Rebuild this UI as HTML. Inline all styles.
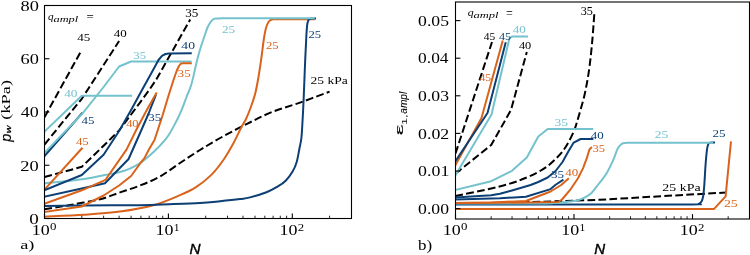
<!DOCTYPE html>
<html><head><meta charset="utf-8"><style>
html,body{margin:0;padding:0;background:#fff;}
body{width:750px;height:255px;overflow:hidden;}
svg{display:block;will-change:transform;}
</style></head><body>
<svg width="750" height="255" viewBox="0 0 750 255">
<defs><clipPath id="cl"><rect x="44.5" y="5.5" width="307" height="213"/></clipPath><clipPath id="cr"><rect x="455.5" y="2" width="294" height="217"/></clipPath></defs>
<rect width="750" height="255" fill="#fff"/>
<path clip-path="url(#cl)" d="M44.5,117.2 L81.8,49.8" stroke="#000000" stroke-width="2.0" stroke-dasharray="7.7,3.3" fill="none" stroke-linejoin="round" stroke-linecap="butt"/>
<path clip-path="url(#cl)" d="M44.5,144.5 L81.8,98.8 L103.6,65 L119.1,41" stroke="#000000" stroke-width="2.0" stroke-dasharray="7.7,3.3" fill="none" stroke-linejoin="round" stroke-linecap="butt"/>
<path clip-path="url(#cl)" d="M44.5,177 L81.8,166.8 L103.6,145.8 L119.1,130.5 L131.1,114.5 L140.9,101.3 L149.2,90 L156.4,79.3 L162.7,68.2 L168.4,58 L175,46.5 L182,34 L190.2,19.5" stroke="#000000" stroke-width="2.0" stroke-dasharray="7.7,3.3" fill="none" stroke-linejoin="round" stroke-linecap="butt"/>
<path clip-path="url(#cl)" d="M44.5,209.2 C48.75,208.5 60.75,206.67 70,205 C79.25,203.33 91.67,201.3 100,199.2 C108.33,197.1 113.33,194.68 120,192.4 C126.67,190.12 133.33,188.15 140,185.5 C146.67,182.85 153.33,180.25 160,176.5 C166.67,172.75 173.33,167.42 180,163 C186.67,158.58 193,154.33 200,150 C207,145.67 214.17,141.35 222,137 C229.83,132.65 238.67,128.07 247,123.9 C255.33,119.73 263.17,115.55 272,112 C280.83,108.45 290.4,106 300,102.6 C309.6,99.2 324.67,93.43 329.6,91.6" stroke="#000000" stroke-width="2.0" stroke-dasharray="7.7,3.3" fill="none" stroke-linejoin="round" stroke-linecap="butt"/>
<path clip-path="url(#cl)" d="M44.5,216.7 C51.08,216.38 71.42,215.65 84,214.8 C96.58,213.95 108.45,213.18 120,211.6 C131.55,210.02 143.3,208.03 153.3,205.3 C163.3,202.57 172.93,198.18 180,195.2 C187.07,192.22 190.48,190.78 195.7,187.4 C200.92,184.02 206.6,179.6 211.3,174.9 C216,170.2 220.23,164.43 223.9,159.2 C227.57,153.97 230.43,148.73 233.3,143.5 C236.17,138.27 238.98,131.88 241.1,127.8 C243.22,123.72 244.43,122.3 246,119 C247.57,115.7 248.98,112.17 250.5,108 C252.02,103.83 253.77,99.17 255.1,94 C256.43,88.83 257.43,83.17 258.5,77 C259.57,70.83 260.58,63.5 261.5,57 C262.42,50.5 263.25,42.83 264,38 C264.75,33.17 265.25,30.67 266,28 C266.75,25.33 267.5,23.42 268.5,22 C269.5,20.58 270.42,19.97 272,19.5 C273.58,19.03 271.05,19.25 278,19.2 C284.95,19.15 307.75,19.2 313.7,19.2" stroke="#d9631a" stroke-width="2.0" fill="none" stroke-linejoin="round" stroke-linecap="square"/>
<path clip-path="url(#cl)" d="M44.5,205.9 C51.08,205.82 68.08,205.52 84,205.4 C99.92,205.28 125.83,205.38 140,205.2 C154.17,205.02 159,204.67 169,204.3 C179,203.93 191.5,203.52 200,203 C208.5,202.48 213.33,201.87 220,201.2 C226.67,200.53 235,199.63 240,199 C245,198.37 245.58,198.53 250,197.4 C254.42,196.27 261.92,193.98 266.5,192.2 C271.08,190.42 274.3,188.62 277.5,186.7 C280.7,184.78 283.18,183.22 285.7,180.7 C288.22,178.18 290.77,174.72 292.6,171.6 C294.43,168.48 295.55,165.9 296.7,162 C297.85,158.1 298.72,152.2 299.5,148.2 C300.28,144.2 300.88,142.7 301.4,138 C301.92,133.3 302.23,126.33 302.6,120 C302.97,113.67 303.17,110 303.6,100 C304.03,90 304.73,70.83 305.2,60 C305.67,49.17 306.03,41.08 306.4,35 C306.77,28.92 306.97,26.13 307.4,23.5 C307.83,20.87 308.23,20.02 309,19.2 C309.77,18.38 311,18.72 312,18.6 C313,18.48 314.5,18.52 315,18.5" stroke="#0c3f74" stroke-width="2.0" fill="none" stroke-linejoin="round" stroke-linecap="square"/>
<path clip-path="url(#cl)" d="M44.5,183.4 C51.08,182.67 73.95,180.4 84,179 C94.05,177.6 97.97,176.42 104.8,175 C111.63,173.58 118.68,172.8 125,170.5 C131.32,168.2 135.98,166.35 142.7,161.2 C149.42,156.05 159.58,146.47 165.3,139.6 C171.02,132.73 174.22,125.1 177,120 C179.78,114.9 180.42,112.83 182,109 C183.58,105.17 184.92,101.17 186.5,97 C188.08,92.83 189.77,90 191.5,84 C193.23,78 195.35,67.17 196.9,61 C198.45,54.83 199.5,51.25 200.8,47 C202.1,42.75 203.58,38.75 204.7,35.5 C205.82,32.25 206.52,29.75 207.5,27.5 C208.48,25.25 209.68,23.33 210.6,22 C211.52,20.67 212.18,20.07 213,19.5 C213.82,18.93 214,18.82 215.5,18.6 C217,18.38 217.92,18.27 222,18.2 C226.08,18.13 224.72,18.2 240,18.2 C255.28,18.2 301.42,18.2 313.7,18.2" stroke="#74c2cd" stroke-width="2.0" fill="none" stroke-linejoin="round" stroke-linecap="square"/>
<path clip-path="url(#cl)" d="M44.5,189.6 L81.8,148.5" stroke="#d9631a" stroke-width="2.0" fill="none" stroke-linejoin="round" stroke-linecap="square"/>
<path clip-path="url(#cl)" d="M44.5,156 L81.8,113.5" stroke="#0c3f74" stroke-width="2.0" fill="none" stroke-linejoin="round" stroke-linecap="square"/>
<path clip-path="url(#cl)" d="M44.5,152.8 L81.8,114.3 L103.6,87 L119.1,66.5 L131.1,61.5 L190.5,61.5" stroke="#74c2cd" stroke-width="2.0" fill="none" stroke-linejoin="round" stroke-linecap="square"/>
<path clip-path="url(#cl)" d="M44.5,212 L81.8,206.5 L103.6,195.5 L119.1,185.5 L131.1,176 L140.9,162.5 L144.3,158.4 L149.2,149 L154.5,140 L162.7,115 L168.4,96 L173.5,80 L177,70 L179,66 L181,63.4 L183,63.2 L190.8,63.2" stroke="#d9631a" stroke-width="2.0" fill="none" stroke-linejoin="round" stroke-linecap="square"/>
<path clip-path="url(#cl)" d="M44.5,196.7 L81.8,188.5 L105,183.3 L128.6,159 L141.4,130 L148.6,113.5 L155.6,95.5" stroke="#0c3f74" stroke-width="2.0" fill="none" stroke-linejoin="round" stroke-linecap="square"/>
<path clip-path="url(#cl)" d="M44.5,203.8 L81.8,190.3 L105.5,179.8 L126.5,149.6 L136.2,130 L146,111.5 L156.2,93.3" stroke="#d9631a" stroke-width="2.0" fill="none" stroke-linejoin="round" stroke-linecap="square"/>
<path clip-path="url(#cl)" d="M44.5,190.1 L81.8,175 L103.6,154.8 L119.1,131 L131.1,110 L140.9,92 L149.2,77 L155,66.5 L158.5,60 L162,55.8 L165.5,54 L169,53.4 L190.8,53.3" stroke="#0c3f74" stroke-width="2.0" fill="none" stroke-linejoin="round" stroke-linecap="square"/>
<path clip-path="url(#cl)" d="M44.5,131.7 L81.8,95.8 L131.1,95.8" stroke="#74c2cd" stroke-width="2.0" fill="none" stroke-linejoin="round" stroke-linecap="square"/>
<path clip-path="url(#cr)" d="M455.5,153.5 L492,42" stroke="#000000" stroke-width="2.0" stroke-dasharray="7.7,3.3" fill="none" stroke-linejoin="round" stroke-linecap="butt"/>
<path clip-path="url(#cr)" d="M455.5,173.6 L491.2,145 L511,110 L526.8,52" stroke="#000000" stroke-width="2.0" stroke-dasharray="7.7,3.3" fill="none" stroke-linejoin="round" stroke-linecap="butt"/>
<path clip-path="url(#cr)" d="M455.5,196 C461.45,194.75 481.78,190.67 491.2,188.5 C500.62,186.33 506.07,184.83 512,183 C517.93,181.17 522.42,179.33 526.8,177.5 C531.18,175.67 534.82,173.92 538.3,172 C541.78,170.08 544.82,168.17 547.7,166 C550.58,163.83 553.13,161.42 555.6,159 C558.07,156.58 560.33,154.33 562.5,151.5 C564.67,148.67 566.68,145.42 568.6,142 C570.52,138.58 572.6,134.33 574,131 C575.4,127.67 575.92,125.5 577,122 C578.08,118.5 579.27,114.42 580.5,110 C581.73,105.58 583.27,100.33 584.4,95.5 C585.53,90.67 586.43,85.92 587.3,81 C588.17,76.08 588.9,71.33 589.6,66 C590.3,60.67 590.93,54.67 591.5,49 C592.07,43.33 592.52,38.08 593,32 C593.48,25.92 594.17,15.75 594.4,12.5" stroke="#000000" stroke-width="2.0" stroke-dasharray="7.7,3.3" fill="none" stroke-linejoin="round" stroke-linecap="butt"/>
<path clip-path="url(#cr)" d="M455.5,203.9 L530,202.1 L600,199.8 L620,198.6 L725.9,192.5" stroke="#000000" stroke-width="2.0" stroke-dasharray="7.7,3.3" fill="none" stroke-linejoin="round" stroke-linecap="butt"/>
<path clip-path="url(#cr)" d="M455.5,208.9 L714.1,208.9 L725.6,196.3 L730.9,142.3" stroke="#d9631a" stroke-width="2.0" fill="none" stroke-linejoin="round" stroke-linecap="square"/>
<path clip-path="url(#cr)" d="M455.5,204.6 C479.58,204.58 560.58,204.53 600,204.5 C639.42,204.47 675.58,204.48 692,204.4 C708.42,204.32 696.92,204.48 698.5,204 C700.08,203.52 700.72,202.83 701.5,201.5 C702.28,200.17 702.73,198.75 703.2,196 C703.67,193.25 703.9,190.27 704.3,185 C704.7,179.73 705.15,170.28 705.6,164.4 C706.05,158.52 706.55,153.07 707,149.7 C707.45,146.33 707.8,145.38 708.3,144.2 C708.8,143.02 709.05,142.87 710,142.6 C710.95,142.33 713.33,142.6 714,142.6" stroke="#0c3f74" stroke-width="2.0" fill="none" stroke-linejoin="round" stroke-linecap="square"/>
<path clip-path="url(#cr)" d="M455.5,203.4 C469.58,203.4 523.58,203.45 540,203.4 C556.42,203.35 549,203.42 554,203.1 C559,202.78 565.67,202.08 570,201.5 C574.33,200.92 576.67,200.8 580,199.6 C583.33,198.4 586.97,196.82 590,194.3 C593.03,191.78 595.45,187.97 598.2,184.5 C600.95,181.03 603.97,177.63 606.5,173.5 C609.03,169.37 611.57,163.78 613.4,159.7 C615.23,155.62 616.13,151.62 617.5,149 C618.87,146.38 620.23,145.02 621.6,144 C622.97,142.98 622.63,143.1 625.7,142.9 C628.77,142.7 625.58,142.82 640,142.8 C654.42,142.78 700.17,142.8 712.2,142.8" stroke="#74c2cd" stroke-width="2.0" fill="none" stroke-linejoin="round" stroke-linecap="square"/>
<path clip-path="url(#cr)" d="M455.5,164.8 L481.5,118 L502.5,41.5" stroke="#d9631a" stroke-width="2.0" fill="none" stroke-linejoin="round" stroke-linecap="square"/>
<path clip-path="url(#cr)" d="M455.5,161 L487.5,113 L505.5,43.3" stroke="#0c3f74" stroke-width="2.0" fill="none" stroke-linejoin="round" stroke-linecap="square"/>
<path clip-path="url(#cr)" d="M455.5,189.9 L491.2,181.2 L512,170.8 L526.8,157.5 L538.3,136.5 L547.7,129 L592.2,129" stroke="#74c2cd" stroke-width="2.0" fill="none" stroke-linejoin="round" stroke-linecap="square"/>
<path clip-path="url(#cr)" d="M455.5,202.9 L491.2,202.8 L526.8,202.5 L558,202 L562,199.5 L570.3,189.7 L578,178.3 L583.1,168.1 L586.9,157.9 L589.4,149.5 L591.2,147.7" stroke="#d9631a" stroke-width="2.0" fill="none" stroke-linejoin="round" stroke-linecap="square"/>
<path clip-path="url(#cr)" d="M455.5,199.4 L500,198.2 L525.9,196.8 L550.6,189.1 L555.3,185 L562.6,180.2" stroke="#0c3f74" stroke-width="2.0" fill="none" stroke-linejoin="round" stroke-linecap="square"/>
<path clip-path="url(#cr)" d="M455.5,202.9 L491.2,202.5 L525.9,201 L550.6,191.5 L561.2,185 L568.1,178.8" stroke="#d9631a" stroke-width="2.0" fill="none" stroke-linejoin="round" stroke-linecap="square"/>
<path clip-path="url(#cr)" d="M455.5,197.5 L491.2,195.3 L500,193.8 L512,190.5 L530.6,185 L538.3,182 L547.7,177.5 L555.6,171 L562.5,162 L568.6,151 L573.7,142.6 L580.6,139 L592.4,139" stroke="#0c3f74" stroke-width="2.0" fill="none" stroke-linejoin="round" stroke-linecap="square"/>
<path clip-path="url(#cr)" d="M455.5,175.2 L491.5,114.5 L509.5,38 L512,36.6 L527,36.6" stroke="#74c2cd" stroke-width="2.0" fill="none" stroke-linejoin="round" stroke-linecap="square"/>
<rect x="44.5" y="5.5" width="307" height="213" fill="none" stroke="#000" stroke-width="1.1"/>
<rect x="455.5" y="2" width="294" height="217" fill="none" stroke="#000" stroke-width="1.1"/>
<line x1="44.5" y1="218.5" x2="44.5" y2="213.6" stroke="#000" stroke-width="1.1"/>
<line x1="81.8" y1="218.5" x2="81.8" y2="215.7" stroke="#000" stroke-width="0.85"/>
<line x1="103.62" y1="218.5" x2="103.62" y2="215.7" stroke="#000" stroke-width="0.85"/>
<line x1="119.1" y1="218.5" x2="119.1" y2="215.7" stroke="#000" stroke-width="0.85"/>
<line x1="131.1" y1="218.5" x2="131.1" y2="215.7" stroke="#000" stroke-width="0.85"/>
<line x1="140.91" y1="218.5" x2="140.91" y2="215.7" stroke="#000" stroke-width="0.85"/>
<line x1="149.21" y1="218.5" x2="149.21" y2="215.7" stroke="#000" stroke-width="0.85"/>
<line x1="156.39" y1="218.5" x2="156.39" y2="215.7" stroke="#000" stroke-width="0.85"/>
<line x1="162.73" y1="218.5" x2="162.73" y2="215.7" stroke="#000" stroke-width="0.85"/>
<line x1="168.4" y1="218.5" x2="168.4" y2="213.6" stroke="#000" stroke-width="1.1"/>
<line x1="205.7" y1="218.5" x2="205.7" y2="215.7" stroke="#000" stroke-width="0.85"/>
<line x1="227.52" y1="218.5" x2="227.52" y2="215.7" stroke="#000" stroke-width="0.85"/>
<line x1="243" y1="218.5" x2="243" y2="215.7" stroke="#000" stroke-width="0.85"/>
<line x1="255" y1="218.5" x2="255" y2="215.7" stroke="#000" stroke-width="0.85"/>
<line x1="264.81" y1="218.5" x2="264.81" y2="215.7" stroke="#000" stroke-width="0.85"/>
<line x1="273.11" y1="218.5" x2="273.11" y2="215.7" stroke="#000" stroke-width="0.85"/>
<line x1="280.29" y1="218.5" x2="280.29" y2="215.7" stroke="#000" stroke-width="0.85"/>
<line x1="286.63" y1="218.5" x2="286.63" y2="215.7" stroke="#000" stroke-width="0.85"/>
<line x1="292.3" y1="218.5" x2="292.3" y2="213.6" stroke="#000" stroke-width="1.1"/>
<line x1="329.6" y1="218.5" x2="329.6" y2="215.7" stroke="#000" stroke-width="0.85"/>
<line x1="455.5" y1="219" x2="455.5" y2="214.1" stroke="#000" stroke-width="1.1"/>
<line x1="491.17" y1="219" x2="491.17" y2="216.2" stroke="#000" stroke-width="0.85"/>
<line x1="512.04" y1="219" x2="512.04" y2="216.2" stroke="#000" stroke-width="0.85"/>
<line x1="526.84" y1="219" x2="526.84" y2="216.2" stroke="#000" stroke-width="0.85"/>
<line x1="538.33" y1="219" x2="538.33" y2="216.2" stroke="#000" stroke-width="0.85"/>
<line x1="547.71" y1="219" x2="547.71" y2="216.2" stroke="#000" stroke-width="0.85"/>
<line x1="555.64" y1="219" x2="555.64" y2="216.2" stroke="#000" stroke-width="0.85"/>
<line x1="562.52" y1="219" x2="562.52" y2="216.2" stroke="#000" stroke-width="0.85"/>
<line x1="568.58" y1="219" x2="568.58" y2="216.2" stroke="#000" stroke-width="0.85"/>
<line x1="574" y1="219" x2="574" y2="214.1" stroke="#000" stroke-width="1.1"/>
<line x1="609.67" y1="219" x2="609.67" y2="216.2" stroke="#000" stroke-width="0.85"/>
<line x1="630.54" y1="219" x2="630.54" y2="216.2" stroke="#000" stroke-width="0.85"/>
<line x1="645.34" y1="219" x2="645.34" y2="216.2" stroke="#000" stroke-width="0.85"/>
<line x1="656.83" y1="219" x2="656.83" y2="216.2" stroke="#000" stroke-width="0.85"/>
<line x1="666.21" y1="219" x2="666.21" y2="216.2" stroke="#000" stroke-width="0.85"/>
<line x1="674.14" y1="219" x2="674.14" y2="216.2" stroke="#000" stroke-width="0.85"/>
<line x1="681.02" y1="219" x2="681.02" y2="216.2" stroke="#000" stroke-width="0.85"/>
<line x1="687.08" y1="219" x2="687.08" y2="216.2" stroke="#000" stroke-width="0.85"/>
<line x1="692.5" y1="219" x2="692.5" y2="214.1" stroke="#000" stroke-width="1.1"/>
<line x1="728.17" y1="219" x2="728.17" y2="216.2" stroke="#000" stroke-width="0.85"/>
<line x1="44.5" y1="218.5" x2="49.4" y2="218.5" stroke="#000" stroke-width="1.1"/>
<line x1="44.5" y1="165.25" x2="49.4" y2="165.25" stroke="#000" stroke-width="1.1"/>
<line x1="44.5" y1="112" x2="49.4" y2="112" stroke="#000" stroke-width="1.1"/>
<line x1="44.5" y1="58.75" x2="49.4" y2="58.75" stroke="#000" stroke-width="1.1"/>
<line x1="44.5" y1="5.5" x2="49.4" y2="5.5" stroke="#000" stroke-width="1.1"/>
<line x1="455.5" y1="208.6" x2="460.4" y2="208.6" stroke="#000" stroke-width="1.1"/>
<line x1="455.5" y1="171" x2="460.4" y2="171" stroke="#000" stroke-width="1.1"/>
<line x1="455.5" y1="133.4" x2="460.4" y2="133.4" stroke="#000" stroke-width="1.1"/>
<line x1="455.5" y1="95.8" x2="460.4" y2="95.8" stroke="#000" stroke-width="1.1"/>
<line x1="455.5" y1="58.2" x2="460.4" y2="58.2" stroke="#000" stroke-width="1.1"/>
<line x1="455.5" y1="20.6" x2="460.4" y2="20.6" stroke="#000" stroke-width="1.1"/>
<text transform="translate(29.34,223.75) scale(1.2730,1)" font-family='"Liberation Serif", serif' font-size="14.96" fill="#000">0</text>
<text transform="translate(20.37,170.5) scale(1.2344,1)" font-family='"Liberation Serif", serif' font-size="14.96" fill="#000">20</text>
<text transform="translate(20.84,117.25) scale(1.2015,1)" font-family='"Liberation Serif", serif' font-size="14.96" fill="#000">40</text>
<text transform="translate(20.47,64) scale(1.2277,1)" font-family='"Liberation Serif", serif' font-size="14.96" fill="#000">60</text>
<text transform="translate(20.47,10.75) scale(1.2277,1)" font-family='"Liberation Serif", serif' font-size="14.96" fill="#000">80</text>
<text transform="translate(418.09,213.78) scale(1.1893,1)" font-family='"Liberation Serif", serif' font-size="14.85" fill="#000">0.00</text>
<text transform="translate(418.08,176.18) scale(1.2037,1)" font-family='"Liberation Serif", serif' font-size="14.85" fill="#000">0.01</text>
<text transform="translate(418.09,138.58) scale(1.2001,1)" font-family='"Liberation Serif", serif' font-size="14.85" fill="#000">0.02</text>
<text transform="translate(418.09,100.98) scale(1.1893,1)" font-family='"Liberation Serif", serif' font-size="14.85" fill="#000">0.03</text>
<text transform="translate(418.1,63.38) scale(1.1718,1)" font-family='"Liberation Serif", serif' font-size="14.85" fill="#000">0.04</text>
<text transform="translate(418.09,25.78) scale(1.1893,1)" font-family='"Liberation Serif", serif' font-size="14.85" fill="#000">0.05</text>
<text transform="translate(31.67,235.45) scale(1.1646,1)" font-family='"Liberation Serif", serif' font-size="15.41" fill="#000">10</text>
<text transform="translate(50.09,230.39) scale(1.1728,1)" font-family='"Liberation Serif", serif' font-size="10.96" fill="#000">0</text>
<text transform="translate(155.57,235.45) scale(1.1646,1)" font-family='"Liberation Serif", serif' font-size="15.41" fill="#000">10</text>
<text transform="translate(173.82,230.5) scale(1.0301,1)" font-family='"Liberation Serif", serif' font-size="11.21" fill="#000">1</text>
<text transform="translate(279.47,235.45) scale(1.1646,1)" font-family='"Liberation Serif", serif' font-size="15.41" fill="#000">10</text>
<text transform="translate(297.83,230.5) scale(1.1372,1)" font-family='"Liberation Serif", serif' font-size="11.21" fill="#000">2</text>
<text transform="translate(442.67,235.45) scale(1.1646,1)" font-family='"Liberation Serif", serif' font-size="15.41" fill="#000">10</text>
<text transform="translate(461.09,230.39) scale(1.1728,1)" font-family='"Liberation Serif", serif' font-size="10.96" fill="#000">0</text>
<text transform="translate(561.17,235.45) scale(1.1646,1)" font-family='"Liberation Serif", serif' font-size="15.41" fill="#000">10</text>
<text transform="translate(579.42,230.5) scale(1.0301,1)" font-family='"Liberation Serif", serif' font-size="11.21" fill="#000">1</text>
<text transform="translate(679.67,235.45) scale(1.1646,1)" font-family='"Liberation Serif", serif' font-size="15.41" fill="#000">10</text>
<text transform="translate(698.03,230.5) scale(1.1372,1)" font-family='"Liberation Serif", serif' font-size="11.21" fill="#000">2</text>
<text transform="translate(189.54,253.9) scale(1.0420,1)" font-family='"Liberation Sans", sans-serif' font-style="italic" font-size="14.64" fill="#000" stroke="#000" stroke-width="0.4">N</text>
<text transform="translate(594.25,254.1) scale(1.0321,1)" font-family='"Liberation Sans", sans-serif' font-style="italic" font-size="14.64" fill="#000" stroke="#000" stroke-width="0.4">N</text>
<text transform="translate(20.16,249.22) scale(1.5266,1)" font-family='"Liberation Serif", serif' font-size="11.98" fill="#000">a)</text>
<text transform="translate(418,249.65) scale(1.2348,1)" font-family='"Liberation Serif", serif' font-size="13.74" fill="#000">b)</text>
<g transform="rotate(-90)">
<text transform="translate(-141.74,10.68) scale(0.9975,1)" font-family='"Liberation Sans", sans-serif' font-style="italic" font-size="14.4" fill="#000" stroke="#000" stroke-width="0.2">p</text>
<text transform="translate(-133.24,11.3) scale(1.6292,1)" font-family='"Liberation Sans", sans-serif' font-style="italic" font-size="6.6" fill="#000" stroke="#000" stroke-width="0.25">w</text>
<text transform="translate(-119.73,10.39) scale(1.3587,1)" font-family='"Liberation Serif", serif' font-size="13.52" fill="#000">(kPa)</text>
<text transform="translate(-135.35,402.9) scale(2.3504,1)" font-family='"Liberation Sans", sans-serif' font-size="10.36" fill="#000" stroke="#000" stroke-width="0.1">&#949;</text>
<text transform="translate(-124.95,407.42) scale(1.6779,1)" font-family='"Liberation Sans", sans-serif' font-size="7.56" fill="#000">1,</text>
<text transform="translate(-113.7,407.47) scale(0.9978,1)" font-family='"Liberation Sans", sans-serif' font-style="italic" font-size="10.16" fill="#000" stroke="#000" stroke-width="0.05">ampl</text>
</g>
<text transform="translate(48.11,19.77) scale(1.0744,1)" font-family='"Liberation Serif", serif' font-style="italic" font-size="10.36" fill="#000">q</text>
<text transform="translate(53.53,21.51) scale(1.4036,1)" font-family='"Liberation Serif", serif' font-style="italic" font-size="8.79" fill="#000">ampl</text>
<text transform="translate(86.45,20.91) scale(0.9775,1)" font-family='"Liberation Serif", serif' font-size="13.2" fill="#000">=</text>
<text transform="translate(467.69,16.15) scale(1.0794,1)" font-family='"Liberation Serif", serif' font-style="italic" font-size="10.95" fill="#000">q</text>
<text transform="translate(473.42,18.01) scale(1.4270,1)" font-family='"Liberation Serif", serif' font-style="italic" font-size="8.79" fill="#000">ampl</text>
<text transform="translate(506.1,17.67) scale(0.8602,1)" font-family='"Liberation Serif", serif' font-size="14" fill="#000">=</text>
<text transform="translate(77.14,41.49) scale(1.1536,1)" font-family='"Liberation Serif", serif' font-size="11.34" fill="#000000">45</text>
<text transform="translate(113.74,36.69) scale(1.1527,1)" font-family='"Liberation Serif", serif' font-size="11.26" fill="#000000">40</text>
<text transform="translate(185.21,16.88) scale(1.1265,1)" font-family='"Liberation Serif", serif' font-size="11.64" fill="#000000">35</text>
<text transform="translate(64.23,97.49) scale(1.1811,1)" font-family='"Liberation Serif", serif' font-size="11.26" fill="#74c2cd">40</text>
<text transform="translate(81.44,124.29) scale(1.1751,1)" font-family='"Liberation Serif", serif' font-size="11.04" fill="#0c3f74">45</text>
<text transform="translate(75.94,144.89) scale(1.1655,1)" font-family='"Liberation Serif", serif' font-size="11.04" fill="#d9631a">45</text>
<text transform="translate(133.22,58.59) scale(1.1521,1)" font-family='"Liberation Serif", serif' font-size="11.19" fill="#74c2cd">35</text>
<text transform="translate(126.15,127.29) scale(1.1055,1)" font-family='"Liberation Serif", serif' font-size="11.26" fill="#d9631a">40</text>
<text transform="translate(148.31,120.69) scale(1.1775,1)" font-family='"Liberation Serif", serif' font-size="11.04" fill="#0c3f74">35</text>
<text transform="translate(181.33,49.49) scale(1.2094,1)" font-family='"Liberation Serif", serif' font-size="11.26" fill="#0c3f74">40</text>
<text transform="translate(177.61,77.09) scale(1.1562,1)" font-family='"Liberation Serif", serif' font-size="11.34" fill="#d9631a">35</text>
<text transform="translate(221.9,32.79) scale(1.2306,1)" font-family='"Liberation Serif", serif' font-size="10.75" fill="#74c2cd">25</text>
<text transform="translate(266.03,49.39) scale(1.1325,1)" font-family='"Liberation Serif", serif' font-size="11.19" fill="#d9631a">25</text>
<text transform="translate(308.43,38.09) scale(1.1176,1)" font-family='"Liberation Serif", serif' font-size="11.34" fill="#0c3f74">25</text>
<text transform="translate(483.77,40.09) scale(1.0129,1)" font-family='"Liberation Serif", serif' font-size="11.34" fill="#000000">45</text>
<text transform="translate(499.06,40.09) scale(1.0691,1)" font-family='"Liberation Serif", serif' font-size="11.34" fill="#0c3f74">45</text>
<text transform="translate(512.84,32.69) scale(1.1527,1)" font-family='"Liberation Serif", serif' font-size="11.26" fill="#74c2cd">40</text>
<text transform="translate(518.95,49.49) scale(1.0960,1)" font-family='"Liberation Serif", serif' font-size="11.26" fill="#000000">40</text>
<text transform="translate(479.47,81.49) scale(1.0316,1)" font-family='"Liberation Serif", serif' font-size="11.34" fill="#d9631a">45</text>
<text transform="translate(580.65,15.28) scale(1.0125,1)" font-family='"Liberation Serif", serif' font-size="12.09" fill="#000000">35</text>
<text transform="translate(554.49,125.69) scale(1.1947,1)" font-family='"Liberation Serif", serif' font-size="11.34" fill="#74c2cd">35</text>
<text transform="translate(590.74,138.69) scale(1.1433,1)" font-family='"Liberation Serif", serif' font-size="11.26" fill="#0c3f74">40</text>
<text transform="translate(592.43,152.49) scale(1.1080,1)" font-family='"Liberation Serif", serif' font-size="11.34" fill="#d9631a">35</text>
<text transform="translate(565.24,175.69) scale(1.1527,1)" font-family='"Liberation Serif", serif' font-size="11.26" fill="#d9631a">40</text>
<text transform="translate(551.01,178.49) scale(1.1562,1)" font-family='"Liberation Serif", serif' font-size="11.34" fill="#0c3f74">35</text>
<text transform="translate(654.69,138.49) scale(1.2043,1)" font-family='"Liberation Serif", serif' font-size="11.34" fill="#74c2cd">25</text>
<text transform="translate(712.41,137.09) scale(1.1562,1)" font-family='"Liberation Serif", serif' font-size="11.34" fill="#0c3f74">25</text>
<text transform="translate(723.88,206.89) scale(1.2236,1)" font-family='"Liberation Serif", serif' font-size="11.34" fill="#d9631a">25</text>
<text transform="translate(310.59,84.49) scale(1.1962,1)" font-family='"Liberation Serif", serif' font-size="11.34" fill="#000">25 kPa</text>
<text transform="translate(662.37,191.49) scale(1.2257,1)" font-family='"Liberation Serif", serif' font-size="11.34" fill="#000">25 kPa</text>
</svg>
</body></html>
